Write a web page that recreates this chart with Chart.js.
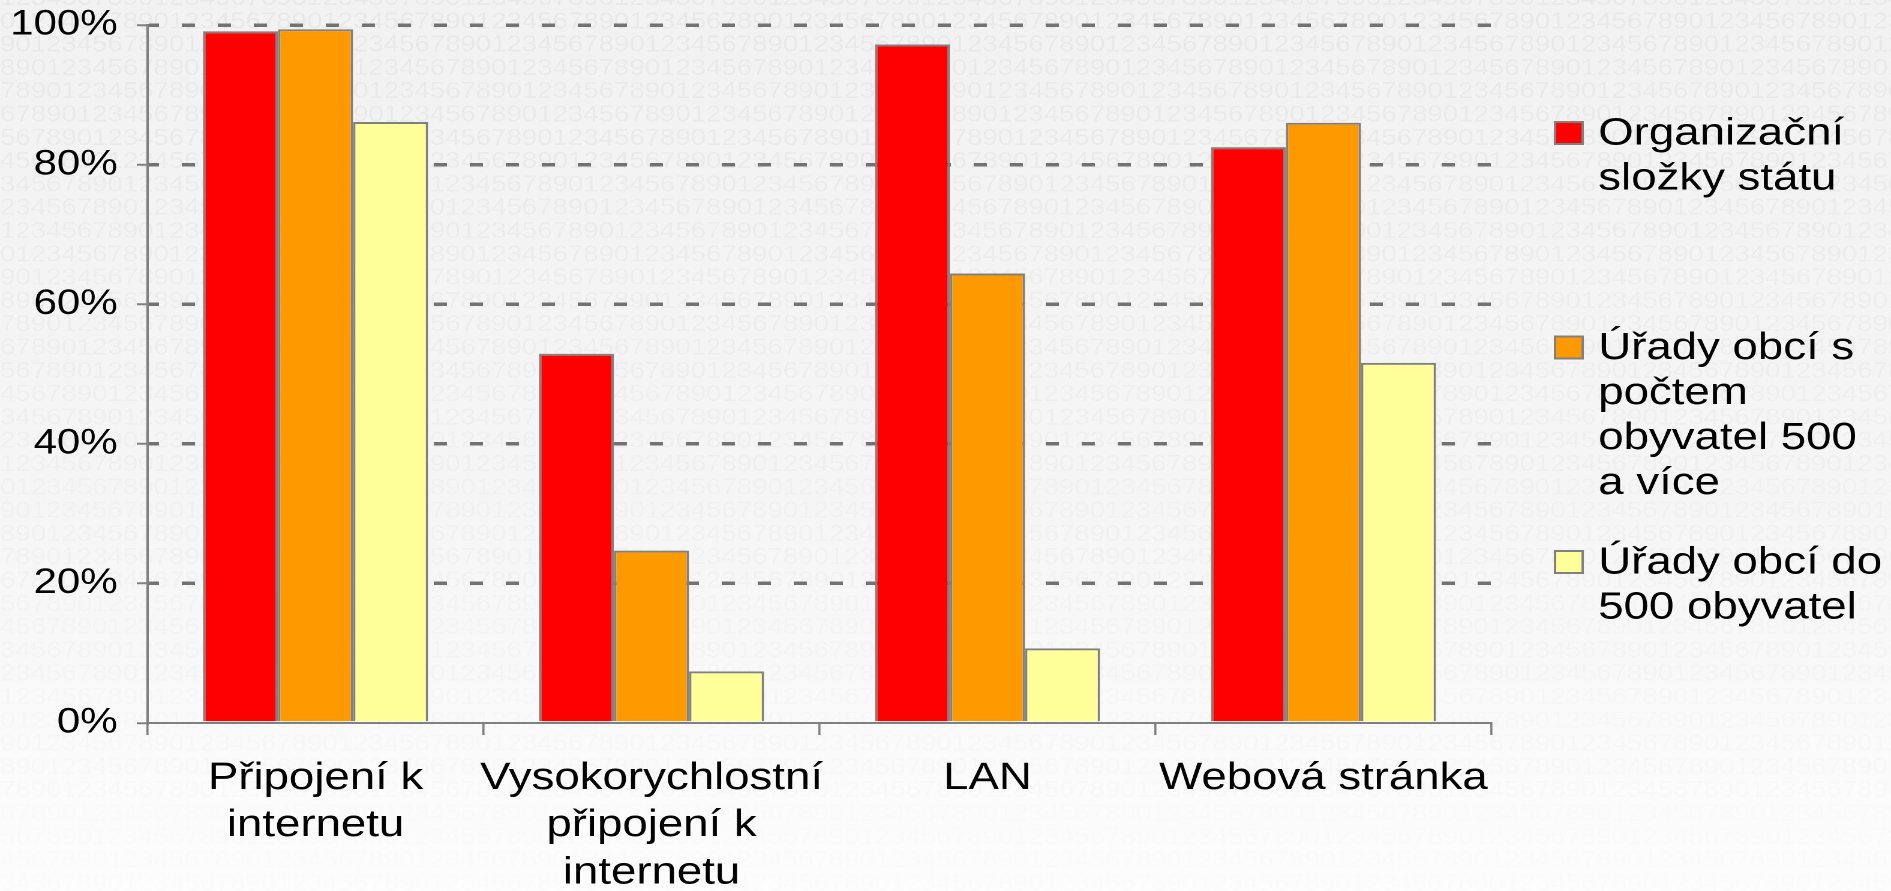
<!DOCTYPE html>
<html>
<head>
<meta charset="utf-8">
<script src="https://cdn.jsdelivr.net/npm/chart.js@4/dist/chart.umd.min.js"></script>
<style>
    html, body { margin: 0; padding: 0; background: #ffffff; overflow: hidden; }
    #chart { display: block; width: 1891px; height: 891px; }
</style>
</head>
<body>
<!-- the reference is stretched horizontally, so the canvas is drawn narrower and scaled up by CSS -->
<canvas id="chart" width="1576" height="891" style="width:1891px;height:891px"></canvas>
<script>
const categories = [
    ['Připojení k', 'internetu'],
    ['Vysokorychlostní', 'připojení k', 'internetu'],
    'LAN',
    'Webová stránka'
];

const seriesNames = [
    'Organizační složky státu',
    'Úřady obcí s počtem obyvatel 500 a více',
    'Úřady obcí do 500 obyvatel'
];

const legendLines = [
    ['Organizační', 'složky státu'],
    ['Úřady obcí s', 'počtem', 'obyvatel 500', 'a více'],
    ['Úřady obcí do', '500 obyvatel']
];

const stateOffices = [99.1, 52.9, 97.2, 82.5];
const townsOver500 = [99.4, 24.7, 64.4, 86.0];
const townsUnder500 = [86.1, 7.4, 10.7, 51.6];

const yTicks = [0, 20, 40, 60, 80, 100];

const FONT = '"Liberation Sans", Arial, sans-serif';
const GRAY = '#808080';

document.addEventListener('DOMContentLoaded', function() {
    initChart();
});

// faint "1234567890" texture behind the chart, fading to white at the bottom
const backgroundPattern = {
    id: 'backgroundPattern',
    beforeDraw(chart) {
        const { ctx, width, height } = chart;
        ctx.save();
        const bg = ctx.createLinearGradient(0, 0, 0, height);
        bg.addColorStop(0, '#f2f2f2');
        bg.addColorStop(0.6, '#f6f6f6');
        bg.addColorStop(1, '#fdfdfd');
        ctx.fillStyle = bg;
        ctx.fillRect(0, 0, width, height);

        ctx.font = '23px ' + FONT;
        ctx.textBaseline = 'alphabetic';
        const digits = '1234567890';
        const cw = ctx.measureText(digits).width / 10;
        const row = digits.repeat(Math.ceil(width / (cw * 10)) + 2);
        for (let k = 0, y = 5; y < height + 25; k++, y += 23.3) {
            const a = 0.04 * (1 - 0.85 * y / height);
            ctx.fillStyle = 'rgba(0,0,0,' + a.toFixed(3) + ')';
            ctx.fillText(row, (k % 10) * cw - 10 * cw, y);
        }
        ctx.restore();
    }
};

// legend on the right with wrapped lines
const sideLegend = {
    id: 'sideLegend',
    afterDraw(chart, args, opts) {
        const ctx = chart.ctx;
        ctx.save();
        ctx.font = opts.fontSize + 'px ' + FONT;
        ctx.textBaseline = 'middle';
        ctx.textAlign = 'left';
        chart.data.datasets.forEach((ds, i) => {
            const y0 = opts.top + i * opts.itemGap;
            ctx.fillStyle = ds.backgroundColor;
            ctx.fillRect(opts.boxX, y0 - 1 - opts.boxH / 2, opts.boxW, opts.boxH);
            ctx.strokeStyle = GRAY;
            ctx.lineWidth = 2;
            ctx.strokeRect(opts.boxX, y0 - 1 - opts.boxH / 2, opts.boxW, opts.boxH);
            ctx.fillStyle = '#000000';
            legendLines[i].forEach((line, j) => {
                ctx.fillText(line, opts.textX, y0 + j * opts.lineHeight);
            });
        });
        ctx.restore();
    }
};

function initChart() {
    const ctx = document.getElementById('chart');
    if (!ctx) return;

    const barStyle = {
        borderColor: GRAY,
        borderWidth: 2,
        categoryPercentage: 0.67,
        barPercentage: 1.0
    };

    const chart = new Chart(ctx, {
        type: 'bar',
        data: {
            labels: categories,
            datasets: [{
                label: seriesNames[0],
                data: stateOffices,
                backgroundColor: '#ff0000',
                ...barStyle
            }, {
                label: seriesNames[1],
                data: townsOver500,
                backgroundColor: '#ff9900',
                ...barStyle
            }, {
                label: seriesNames[2],
                data: townsUnder500,
                backgroundColor: '#ffff99',
                ...barStyle
            }]
        },
        options: {
            responsive: false,
            devicePixelRatio: 2,
            animation: false,
            layout: {
                padding: { left: 0, top: 25, right: 333, bottom: 0 }
            },
            plugins: {
                legend: { display: false },
                tooltip: { enabled: false },
                title: { display: false },
                sideLegend: {
                    top: 134,
                    itemGap: 214.5,
                    lineHeight: 45,
                    boxX: 1296,
                    boxW: 23,
                    boxH: 22,
                    textX: 1332,
                    fontSize: 38
                }
            },
            scales: {
                x: {
                    afterFit: function(scale) {
                        scale.height = 168;
                        scale.paddingLeft = 0;
                        scale.paddingRight = 0;
                    },
                    grid: {
                        display: true,
                        offset: true,
                        drawOnChartArea: false,
                        drawTicks: true,
                        tickLength: 12,
                        color: GRAY,
                        lineWidth: 1.8
                    },
                    border: { display: true, color: GRAY, width: 2 },
                    ticks: {
                        color: '#000000',
                        padding: 20,
                        maxRotation: 0,
                        autoSkip: false,
                        font: { family: FONT, size: 38, lineHeight: 1.24 }
                    }
                },
                y: {
                    min: 0,
                    max: 100,
                    afterFit: function(scale) {
                        scale.width = 123;
                        scale.paddingTop = 0;
                        scale.paddingBottom = 0;
                    },
                    afterBuildTicks: function(scale) {
                        scale.ticks = yTicks.map(v => ({ value: v }));
                    },
                    grid: {
                        display: true,
                        drawTicks: true,
                        tickLength: 9,
                        lineWidth: 3.5,
                        color: function(c) {
                            return c.tick && c.tick.value === 0 ? 'rgba(0,0,0,0)' : '#727272';
                        },
                        tickColor: GRAY,
                        tickWidth: 2
                    },
                    border: { display: true, color: GRAY, width: 2, dash: [11, 19], dashOffset: 2.5 },
                    ticks: {
                        color: '#000000',
                        padding: 16,
                        font: { family: FONT, size: 35 },
                        callback: function(value) { return value + '%'; }
                    }
                }
            }
        },
        plugins: [backgroundPattern, sideLegend]
    });

    window.ictChart = chart;
}
</script>
</body>
</html>
